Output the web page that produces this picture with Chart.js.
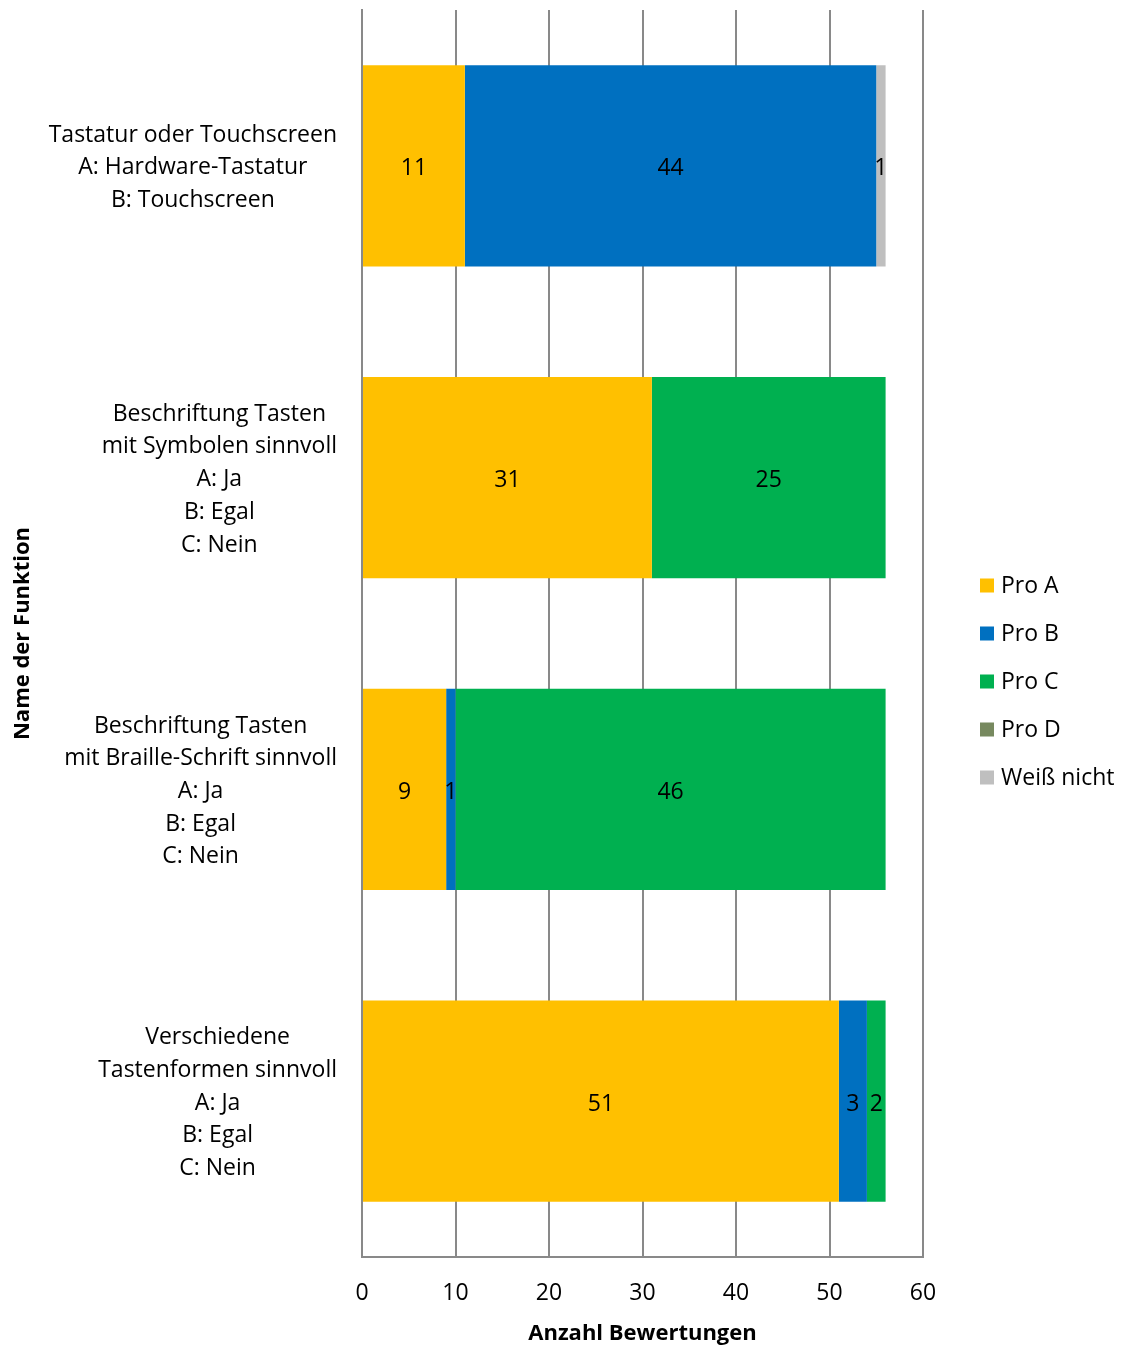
<!DOCTYPE html>
<html lang="de">
<head>
<meta charset="utf-8">
<title>Bewertungen der Tastatur-Funktionen</title>
<script src="https://cdn.jsdelivr.net/npm/chart.js@4.4.1/dist/chart.umd.min.js"></script>
<style>
  html, body { margin: 0; padding: 0; background: #ffffff; }
  #wrap { position: relative; width: 1128px; height: 1347px; }
</style>
</head>
<body>
<div id="wrap"><canvas id="chart" width="1128" height="1347"></canvas></div>
<script>
// Categories (multi-line labels of each function)
const categories = [
  ['Tastatur oder Touchscreen', 'A: Hardware-Tastatur', 'B: Touchscreen'],
  ['Beschriftung Tasten', 'mit Symbolen sinnvoll', 'A: Ja', 'B: Egal', 'C: Nein'],
  ['Beschriftung Tasten', 'mit Braille-Schrift sinnvoll', 'A: Ja', 'B: Egal', 'C: Nein'],
  ['Verschiedene', 'Tastenformen sinnvoll', 'A: Ja', 'B: Egal', 'C: Nein']
];

// Number of ratings per answer
const proA      = [11, 31, 9, 51];
const proB      = [44, 0, 1, 3];
const proC      = [0, 25, 46, 2];
const proD      = [0, 0, 0, 0];
const weissNicht = [1, 0, 0, 0];

const seriesNames = ['Pro A', 'Pro B', 'Pro C', 'Pro D', 'Weiß nicht'];
const seriesColors = ['#FFC000', '#0070C0', '#00B050', '#77895F', '#BFBFBF'];

const xTicks = [0, 10, 20, 30, 40, 50, 60];
const xTitle = 'Anzahl Bewertungen';
const yTitle = 'Name der Funktion';

const FONT = '"Open Sans", "DejaVu Sans", sans-serif';
const TEXT_SIZE = 23;
const TITLE_SIZE = 22;
const TEXT_COLOR = '#000000';
const GRID_COLOR = '#898989';

const seriesValues = [proA, proB, proC, proD, weissNicht];

// Multi-line category labels: block right-aligned to the axis, lines centred in the block
const categoryLabelPlugin = {
  id: 'categoryLabels',
  afterDraw(chart) {
    const { ctx, chartArea } = chart;
    const yScale = chart.scales.y;
    const lineH = 32.7;
    ctx.save();
    ctx.font = TEXT_SIZE + 'px ' + FONT;
    ctx.fillStyle = TEXT_COLOR;
    ctx.textAlign = 'center';
    ctx.textBaseline = 'middle';
    categories.forEach((lines, i) => {
      const y = yScale.getPixelForValue(i) + 2;
      const maxW = Math.max(...lines.map(l => ctx.measureText(l).width));
      const cx = chartArea.left - 25 - maxW / 2;
      lines.forEach((line, j) => {
        ctx.fillText(line, cx, y + (j - (lines.length - 1) / 2) * lineH);
      });
    });
    ctx.restore();
  }
};

// Value labels centred inside each bar segment
const valueLabelPlugin = {
  id: 'valueLabels',
  afterDatasetsDraw(chart) {
    const { ctx } = chart;
    ctx.save();
    ctx.font = TEXT_SIZE + 'px ' + FONT;
    ctx.fillStyle = TEXT_COLOR;
    ctx.textAlign = 'center';
    ctx.textBaseline = 'middle';
    chart.data.datasets.forEach((ds, di) => {
      const meta = chart.getDatasetMeta(di);
      if (meta.hidden) return;
      meta.data.forEach((bar, i) => {
        const v = ds.data[i];
        if (!v) return;
        const p = bar.getProps(['x', 'y', 'base'], true);
        ctx.fillText(String(v), (p.x + p.base) / 2, p.y + 3);
      });
    });
    ctx.restore();
  }
};

// Legend at the right of the plot
const sideLegendPlugin = {
  id: 'sideLegend',
  afterDraw(chart) {
    const { ctx, chartArea } = chart;
    const rowH = 48;
    const n = chart.data.datasets.length;
    const x0 = chartArea.right + 57;
    const y0 = chart.height / 2 + 8 - rowH * (n - 1) / 2;
    ctx.save();
    ctx.font = TEXT_SIZE + 'px ' + FONT;
    ctx.textAlign = 'left';
    ctx.textBaseline = 'middle';
    chart.data.datasets.forEach((ds, i) => {
      const y = y0 + i * rowH;
      ctx.fillStyle = ds.backgroundColor;
      ctx.fillRect(x0, y - 7, 14, 14);
      ctx.fillStyle = TEXT_COLOR;
      ctx.fillText(ds.label, x0 + 21, y + 1);
    });
    ctx.restore();
  }
};

const datasets = seriesNames.map((name, k) => ({
  label: name,
  data: seriesValues[k],
  backgroundColor: seriesColors[k],
  borderWidth: 0,
  barPercentage: 0.645,
  categoryPercentage: 1.0
}));

new Chart(document.getElementById('chart'), {
  type: 'bar',
  data: {
    labels: categories.map(l => l.join(' ')),
    datasets
  },
  options: {
    indexAxis: 'y',
    responsive: false,
    animation: false,
    layout: { padding: { top: 10, right: 205, bottom: 0, left: 0 } },
    plugins: {
      legend: { display: false },
      tooltip: { enabled: false },
      title: { display: false }
    },
    scales: {
      x: {
        stacked: true,
        min: xTicks[0],
        max: xTicks[xTicks.length - 1],
        afterBuildTicks(scale) {
          scale.ticks = xTicks.map(v => ({ value: v }));
        },
        afterFit(scale) { scale.height = 90; },
        grid: { color: GRID_COLOR, lineWidth: 2, drawTicks: false },
        border: { color: GRID_COLOR, width: 2 },
        ticks: {
          color: TEXT_COLOR,
          font: { family: FONT, size: TEXT_SIZE },
          padding: 23,
          maxRotation: 0
        },
        title: {
          display: true,
          text: xTitle,
          color: TEXT_COLOR,
          font: { family: FONT, size: TITLE_SIZE, weight: 'bold' },
          padding: { top: 0, bottom: 0 }
        }
      },
      y: {
        stacked: true,
        afterFit(scale) { scale.width = 362; },
        grid: { display: false, drawTicks: false },
        border: { color: GRID_COLOR, width: 2 },
        ticks: { display: false },
        title: {
          display: true,
          text: yTitle,
          color: TEXT_COLOR,
          font: { family: FONT, size: TITLE_SIZE, weight: 'bold' },
          padding: { top: 10, bottom: 0 }
        }
      }
    }
  },
  plugins: [categoryLabelPlugin, valueLabelPlugin, sideLegendPlugin]
});
</script>
</body>
</html>
